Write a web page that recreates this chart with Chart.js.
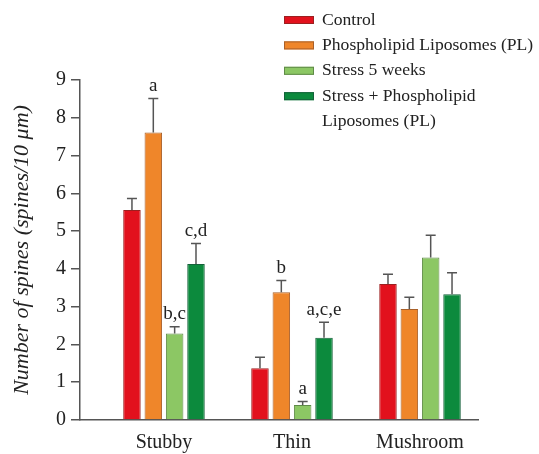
<!DOCTYPE html>
<html>
<head>
<meta charset="utf-8">
<script src="https://cdn.jsdelivr.net/npm/chart.js@4/dist/chart.umd.min.js"></script>
<style>
  html, body { margin: 0; padding: 0; background: #fff; }
  #wrap { width: 539px; height: 454px; position: relative; }
</style>
</head>
<body>
<div id="wrap"><canvas id="spinesChart"></canvas></div>
<script>
// --- data ---
const categories = ['Stubby', 'Thin', 'Mushroom'];
const seriesNames = ['Control', 'Phospholipid Liposomes (PL)', 'Stress 5 weeks', 'Stress + Phospholipid\nLiposomes (PL)'];

const controlValues = [5.56, 1.37, 3.60];
const plValues = [7.61, 3.38, 2.94];
const stressValues = [2.29, 0.40, 4.30];
const stressPlValues = [4.13, 2.18, 3.33];

// error (upper) for each bar
const controlErr = [0.30, 0.29, 0.26];
const plErr = [0.90, 0.31, 0.31];
const stressErr = [0.18, 0.09, 0.59];
const stressPlErr = [0.54, 0.41, 0.57];

// significance letters above the bars
const controlSig = ['', '', ''];
const plSig = ['a', 'b', ''];
const stressSig = ['b,c', 'a', ''];
const stressPlSig = ['c,d', 'a,c,e', ''];

const yTicks = [0, 1, 2, 3, 4, 5, 6, 7, 8, 9];

const colors = ['#e2111d', '#ef862a', '#8cc764', '#0c8a3d'];
const edgeColors = ['#9c2020', '#a8602a', '#5f8a48', '#15613a'];

const serif = "'Liberation Serif', 'Times New Roman', serif";
const ink = '#222';
const axisGray = '#555';

const valueSets = [controlValues, plValues, stressValues, stressPlValues];
const errSets = [controlErr, plErr, stressErr, stressPlErr];
const sigSets = [controlSig, plSig, stressSig, stressPlSig];

const datasets = seriesNames.map((name, d) => ({
    label: name,
    data: categories.map((c, i) => ({ x: i, y: valueSets[d][i] })),
    backgroundColor: colors[d],
    borderColor: edgeColors[d],
    borderWidth: 1,
    errors: errSets[d],
    sig: sigSets[d]
}));

// error bars + letters
const errorBars = {
    id: 'errorBars',
    afterDatasetsDraw(chart) {
        const ctx = chart.ctx;
        const y = chart.scales.y;
        ctx.save();
        chart.data.datasets.forEach((ds, d) => {
            const meta = chart.getDatasetMeta(d);
            meta.data.forEach((bar, i) => {
                const top = y.getPixelForValue(ds.data[i].y + ds.errors[i]);
                ctx.strokeStyle = axisGray;
                ctx.lineWidth = 1.5;
                ctx.beginPath();
                ctx.moveTo(bar.x, bar.y);
                ctx.lineTo(bar.x, top);
                ctx.moveTo(bar.x - 5, top);
                ctx.lineTo(bar.x + 5, top);
                ctx.stroke();
                if (ds.sig[i]) {
                    ctx.fillStyle = ink;
                    ctx.font = '19px ' + serif;
                    ctx.textAlign = 'center';
                    ctx.textBaseline = 'bottom';
                    ctx.fillText(ds.sig[i], bar.x, top - 3);
                }
            });
        });
        ctx.restore();
    }
};

// legend in the top-right corner, with a two-line last entry
const sideLegend = {
    id: 'sideLegend',
    afterDraw(chart) {
        const ctx = chart.ctx;
        const boxX = 284, textX = 322, rowY = 20, rowH = 25.4;
        let line = 0;
        ctx.save();
        ctx.font = '17.6px ' + serif;
        ctx.textBaseline = 'middle';
        ctx.textAlign = 'left';
        chart.data.datasets.forEach((ds) => {
            const cy = rowY + line * rowH;
            ctx.fillStyle = ds.backgroundColor;
            ctx.fillRect(boxX, cy - 4, 30, 8);
            ctx.strokeStyle = ds.borderColor;
            ctx.lineWidth = 1;
            ctx.strokeRect(boxX + 0.5, cy - 3.5, 29, 7);
            ctx.fillStyle = ink;
            ds.label.split('\n').forEach((txt) => {
                ctx.fillText(txt, textX, rowY + line * rowH);
                line++;
            });
        });
        ctx.restore();
    }
};

new Chart(document.getElementById('spinesChart'), {
    type: 'bar',
    data: { datasets },
    options: {
        responsive: true,
        maintainAspectRatio: false,
        animation: false,
        layout: { padding: { top: 80, right: 61, left: 0, bottom: 0 } },
        datasets: { bar: { categoryPercentage: 0.667, barPercentage: 0.82 } },
        plugins: { legend: { display: false }, tooltip: { enabled: false } },
        scales: {
            x: {
                type: 'linear',
                offset: false,
                min: -0.656,
                max: 2.453,
                afterBuildTicks: (s) => { s.ticks = categories.map((c, i) => ({ value: i })); },
                afterFit: (s) => { s.height = 34; },
                grid: { offset: false, drawOnChartArea: false, drawTicks: false },
                border: { color: axisGray, width: 1.5 },
                ticks: {
                    padding: 11,
                    color: ink,
                    font: { family: serif, size: 20 },
                    callback: (v) => categories[v]
                }
            },
            y: {
                min: 0,
                max: 9,
                afterBuildTicks: (s) => { s.ticks = yTicks.map((v) => ({ value: v })); },
                afterFit: (s) => { s.width = 80; },
                grid: { drawOnChartArea: false, drawTicks: true, tickLength: 9, color: axisGray, lineWidth: 1.5 },
                border: { color: axisGray, width: 1.5 },
                ticks: { padding: 5, color: ink, font: { family: serif, size: 20 } },
                title: {
                    display: true,
                    text: 'Number of spines (spines/10 μm)',
                    color: ink,
                    font: { family: serif, size: 22, style: 'italic' },
                    padding: { top: 9 }
                }
            }
        }
    },
    plugins: [errorBars, sideLegend]
});
</script>
</body>
</html>
